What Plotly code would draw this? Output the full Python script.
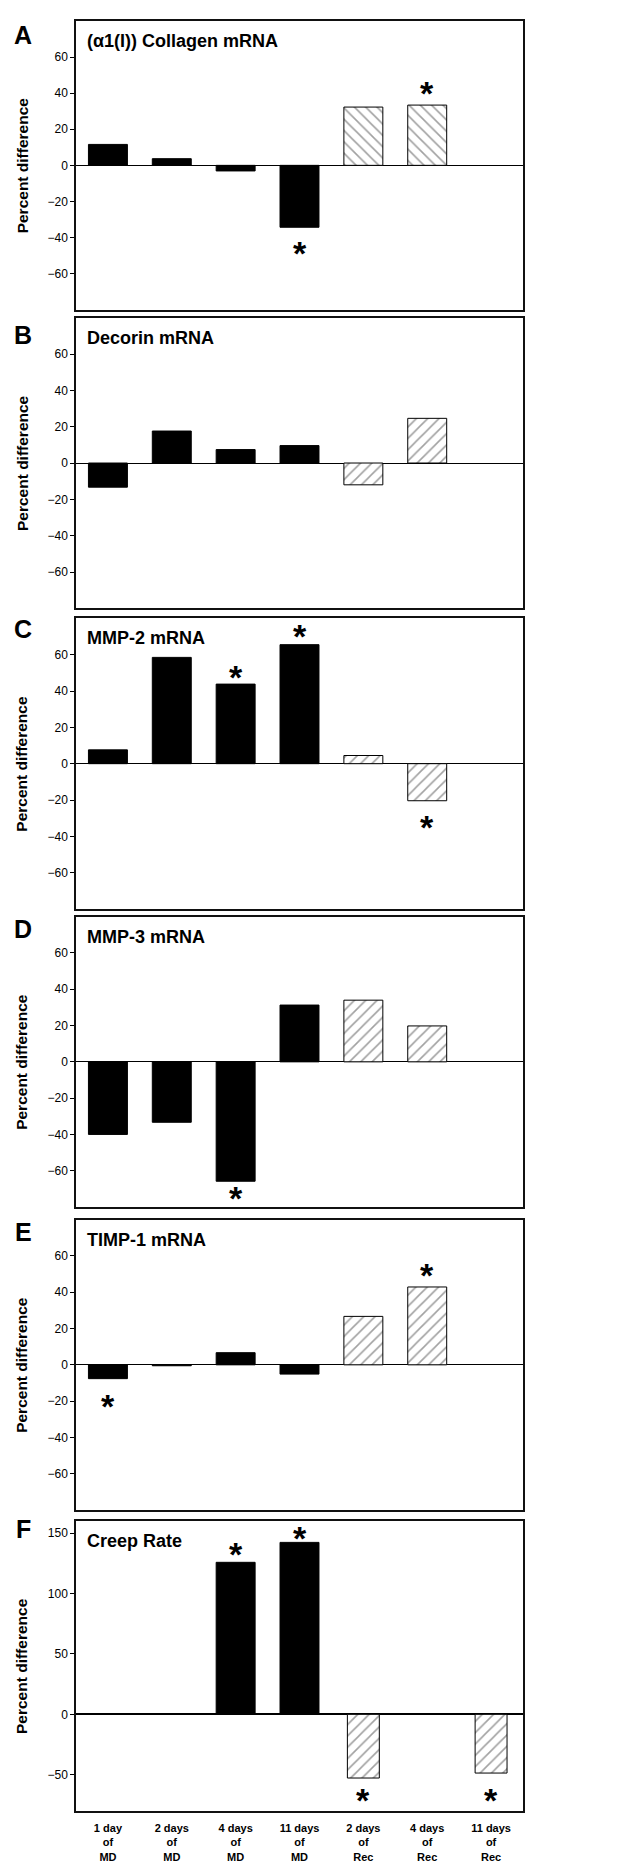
import plotly.graph_objects as go

# ---------------- data ----------------
categories = ["1 day of MD", "2 days of MD", "4 days of MD", "11 days of MD",
              "2 days of Rec", "4 days of Rec", "11 days of Rec"]
tick_labels = ["1 day<br>of<br>MD", "2 days<br>of<br>MD", "4 days<br>of<br>MD",
               "11 days<br>of<br>MD", "2 days<br>of<br>Rec", "4 days<br>of<br>Rec",
               "11 days<br>of<br>Rec"]
phase = ["MD", "MD", "MD", "MD", "Rec", "Rec", "Rec"]

panel_letters = ["A", "B", "C", "D", "E", "F"]
panel_titles = ["(α1(I)) Collagen mRNA", "Decorin mRNA", "MMP-2 mRNA",
                "MMP-3 mRNA", "TIMP-1 mRNA", "Creep Rate"]

collagen = [11.6, 3.7, -3.1, -34.3, 32.3, 33.4, None]
decorin = [-13.3, 17.6, 7.4, 9.6, -12.0, 24.6, None]
mmp2 = [7.6, 58.5, 43.8, 65.5, 4.5, -20.4, None]
mmp3 = [-40.0, -33.3, -65.8, 31.3, 34.0, 19.8, None]
timp1 = [-7.6, -0.5, 6.7, -5.1, 26.7, 42.9, None]
creep = [0.0, 0.0, 125.8, 142.3, -52.7, 0.0, -48.6]

# significance asterisks: (category index, y position)
stars_collagen = [(3, -46), (5, 42.8)]
stars_decorin = []
stars_mmp2 = [(2, 50.5), (3, 73), (5, -32)]
stars_mmp3 = [(2, -72.3)]
stars_timp1 = [(0, -20), (5, 52)]
stars_creep = [(2, 136.8), (3, 149.7), (4, -66.5), (6, -66.5)]

series = [collagen, decorin, mmp2, mmp3, timp1, creep]
stars = [stars_collagen, stars_decorin, stars_mmp2, stars_mmp3, stars_timp1, stars_creep]

# ---------------- style / layout ----------------
W, H = 621, 1866
ML, MR, MT, MB = 68, 106, 11, 57
panel_px = [(11, 301), (309, 601), (611, 903), (910.7, 1202.3), (1215, 1506.7), (1517.7, 1809)]
hatch = ["\\", "/", "/", "/", "/", "/"]
letter_off = [14, 17, 11, 12, 12, 8]
FONT = "Liberation Sans, Arial, Helvetica, sans-serif"

plot_h = H - MT - MB


def paper_y(px):
    return min(1.0, max(0.0, (H - MB - px) / plot_h))


fig = go.Figure()
annotations = []

for i in range(6):
    n = "" if i == 0 else str(i + 1)
    xa, ya = "x" + n, "y" + n
    vals = series[i]
    is_creep = i == 5
    colors = ["black" if p == "MD" else "white" for p in phase]
    shapes = ["" if p == "MD" else hatch[i] for p in phase]
    widths = [0.61 if (p == "MD" or not is_creep) else 0.5 for p in phase]
    fig.add_trace(go.Bar(
        x=categories, y=vals, xaxis=xa, yaxis=ya, width=widths,
        marker=dict(color=colors, line=dict(color="black", width=1),
                    pattern=dict(shape=shapes, fgcolor="black", bgcolor="white",
                                 size=8, solidity=0.2)),
        showlegend=False, hoverinfo="skip",
    ))
    top, bot = panel_px[i]
    dom = [paper_y(bot), paper_y(top)]
    if is_creep:
        yr, tv = [-80, 160], [-50, 0, 50, 100, 150]
    else:
        yr, tv = [-80, 80], [-60, -40, -20, 0, 20, 40, 60]
    fig.layout["xaxis" + n] = dict(
        domain=[0, 1], anchor=ya, showline=True, mirror=True, linecolor="#111",
        linewidth=1.5, showgrid=False, zeroline=False, ticks="",
        showticklabels=is_creep, tickvals=categories, ticktext=tick_labels,
        ticklabelstandoff=6,
        tickfont=dict(family=FONT, size=11, color="black", weight="bold"),
        categoryorder="array", categoryarray=categories, range=[-0.5, 6.5],
    )
    fig.layout["yaxis" + n] = dict(
        domain=dom, anchor=xa, range=yr, tickvals=tv, showline=True, mirror=True,
        linecolor="#111", linewidth=1.5, showgrid=False, zeroline=True,
        zerolinecolor="black", zerolinewidth=2 if is_creep else 1.2,
        ticks="outside", ticklen=4, tickcolor="black", tickwidth=1,
        tickfont=dict(family=FONT, size=12, color="black"),
    )
    # panel letter
    annotations.append(dict(
        text=panel_letters[i], xref="paper", x=-53 / (W - ML - MR), xanchor="center",
        yref=ya + " domain", y=1, yanchor="middle", yshift=-letter_off[i],
        showarrow=False, font=dict(family=FONT, size=25, color="black", weight="bold"),
    ))
    # panel title
    annotations.append(dict(
        text=panel_titles[i], xref=xa + " domain", x=0, xanchor="left", xshift=9,
        yref=ya + " domain", y=1, yanchor="middle", yshift=-20,
        showarrow=False, font=dict(family=FONT, size=18, color="black", weight="bold"),
    ))
    # y axis title
    annotations.append(dict(
        text="Percent difference", xref="paper", x=-54 / (W - ML - MR), xanchor="center",
        yref=ya + " domain", y=0.5, yanchor="middle", textangle=-90,
        showarrow=False, font=dict(family=FONT, size=15.5, color="black", weight="bold"),
    ))
    # asterisks
    for (ci, yv) in stars[i]:
        annotations.append(dict(
            text="*", xref=xa, x=categories[ci], yref=ya, y=yv, yanchor="middle",
            yshift=-5, showarrow=False, borderpad=0,
            font=dict(family=FONT, size=34, color="black", weight="bold"),
        ))

fig.update_layout(
    width=W, height=H, margin=dict(l=ML, r=MR, t=MT, b=MB),
    paper_bgcolor="white", plot_bgcolor="white", bargap=0.39,
    annotations=annotations, font=dict(family=FONT, color="black"),
)

fig.write_html("out.html")
